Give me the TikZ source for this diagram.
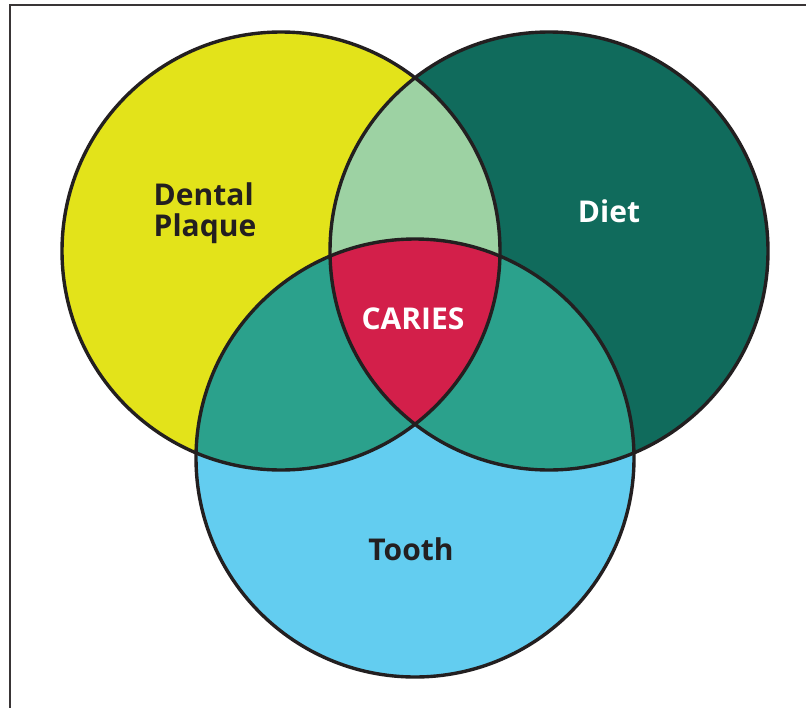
\documentclass[tikz,border=0pt]{standalone}
\usepackage{fontspec}
\setmainfont{Open Sans}
\definecolor{cyell}{HTML}{E3E31A}
\definecolor{cdgreen}{HTML}{106B5C}
\definecolor{cblue}{HTML}{63CDF0}
\definecolor{clgreen}{HTML}{9DD2A3}
\definecolor{cteal}{HTML}{2BA18C}
\definecolor{cred}{HTML}{D31F4A}
\definecolor{cink}{HTML}{231F20}
\tikzset{
  outline/.style={draw=cink, line width=3.4pt},
  lab/.style={font=\fontsize{30}{30}\selectfont\bfseries, align=left, inner sep=0pt},
}
\begin{document}
\begin{tikzpicture}[x=1pt,y=-1pt]
\useasboundingbox (0,0) rectangle (806,707);
\fill[white] (0,0) rectangle (806,707);
% frame
\draw[draw=cink!90, line width=2pt] (10,720) -- (10,5) -- (820,5);
% coordinates
\coordinate (cy) at (281,251);
\coordinate (cg) at (549,251);
\coordinate (cb) at (415,458);
\def\R{219}
% base fills
\fill[cyell] (cy) circle (\R);
\fill[cdgreen] (cg) circle (\R);
\fill[cblue] (cb) circle (\R);
% pairwise intersections
\begin{scope}
  \clip (cy) circle (\R);
  \fill[clgreen] (cg) circle (\R);
  \fill[cteal] (cb) circle (\R);
\end{scope}
\begin{scope}
  \clip (cg) circle (\R);
  \fill[cteal] (cb) circle (\R);
\end{scope}
% triple intersection
\begin{scope}
  \clip (cy) circle (\R);
  \clip (cg) circle (\R);
  \fill[cred] (cb) circle (\R);
\end{scope}
% outlines
\draw[outline] (cy) circle (\R);
\draw[outline] (cg) circle (\R);
\draw[outline] (cb) circle (\R);
% labels
\node[lab, text=cink] (plaque) at (205,213) {Dental\\[1pt]Plaque};
\node[lab, text=white] (diet) at (609,211) {Diet};
\node[lab, text=white] (caries) at (413,319) {CARIES};
\node[lab, text=cink] (tooth) at (411,549) {Tooth};
\end{tikzpicture}
\end{document}
